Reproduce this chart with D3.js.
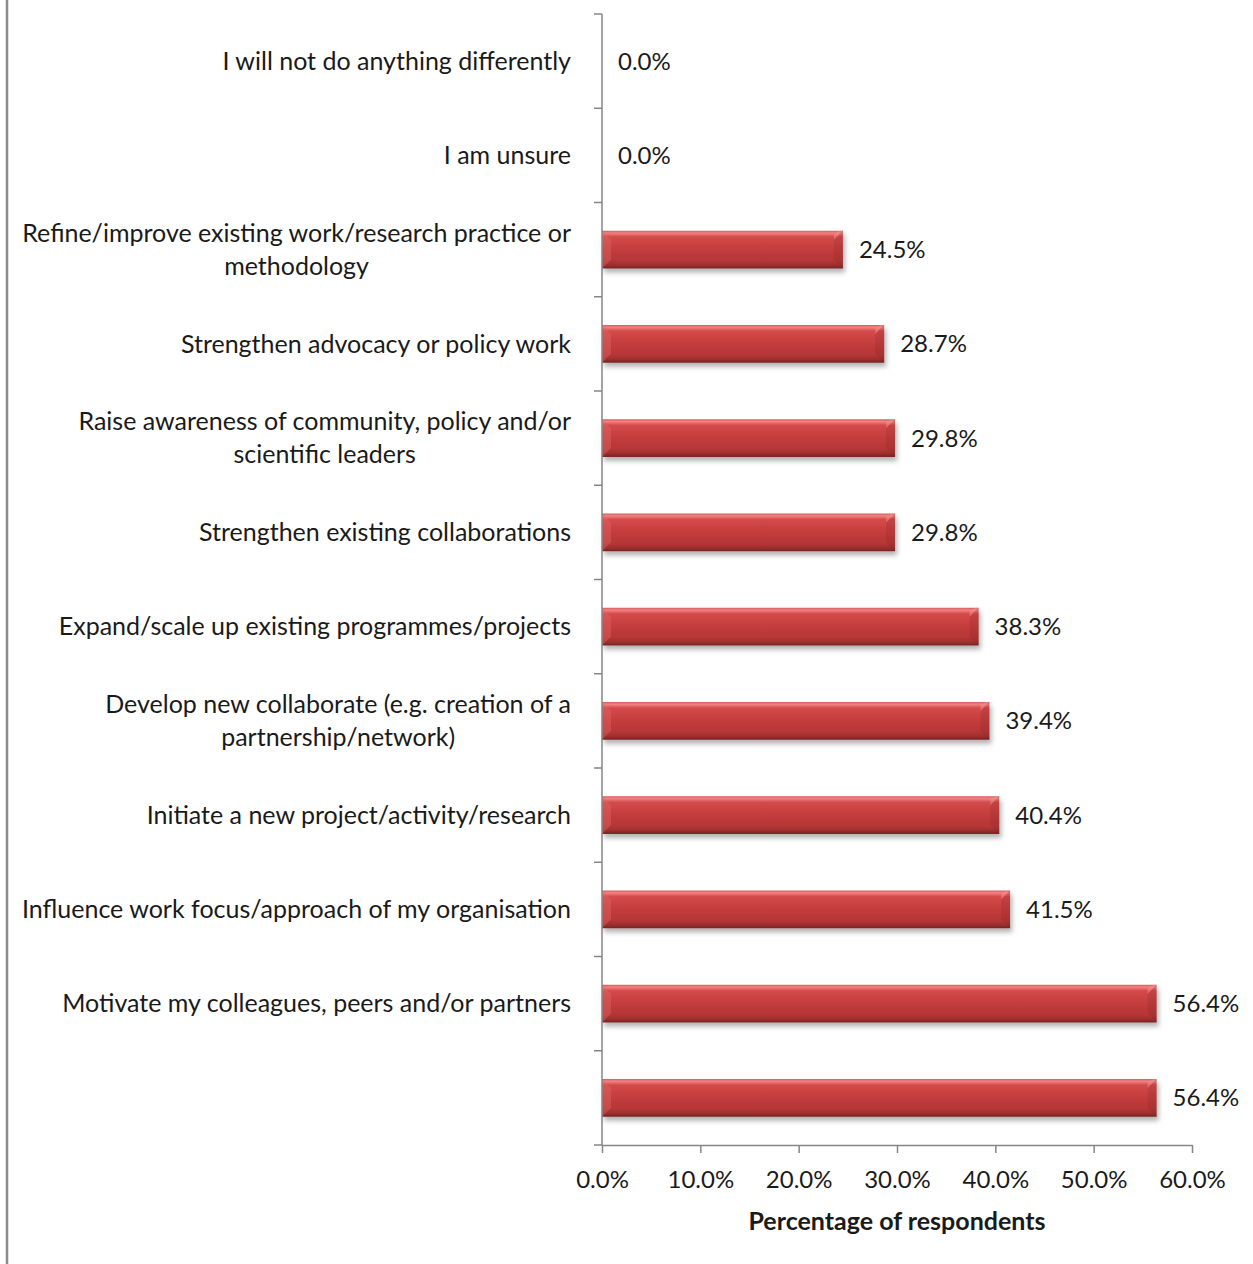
<!DOCTYPE html>
<html>
<head>
<meta charset="utf-8">
<script src="https://cdn.jsdelivr.net/npm/d3@7"></script>
<style>
  html, body { margin: 0; padding: 0; background: #fff; }
  svg { display: block; }
  text { font-family: Lato, "Open Sans", sans-serif; fill: #1a1a1a; }
</style>
</head>
<body>
<svg id="chart" width="1253" height="1264"></svg>
<script>
// Survey answers, top to bottom ("|" splits a label into lines)
const categories = [
  "I will not do anything differently",
  "I am unsure",
  "Refine/improve existing work/research practice or|methodology",
  "Strengthen advocacy or policy work",
  "Raise awareness of community, policy and/or|scientific leaders",
  "Strengthen existing collaborations",
  "Expand/scale up existing programmes/projects",
  "Develop new collaborate (e.g. creation of a|partnership/network)",
  "Initiate a new project/activity/research",
  "Influence work focus/approach of my organisation",
  "Motivate my colleagues, peers and/or partners",
  ""
];
// Percentage of respondents per answer
const values = [0.0, 0.0, 24.5, 28.7, 29.8, 29.8, 38.3, 39.4, 40.4, 41.5, 56.4, 56.4];
const xTicks = [0, 10, 20, 30, 40, 50, 60];
const xTitle = "Percentage of respondents";

const svg = d3.select("#chart");
const plotLeft = 602, plotRight = 1192, plotTop = 14, plotBottom = 1145;
const axisColor = "#868686";

// Frame line along the left edge
svg.append("line")
  .attr("x1", 7).attr("x2", 7).attr("y1", 0).attr("y2", 1264)
  .attr("stroke", "#8a8a8a").attr("stroke-width", 2.5);

const x = d3.scaleLinear().domain([0, 60]).range([plotLeft, plotRight]);
const y = d3.scaleBand().domain(d3.range(categories.length)).range([plotTop, plotBottom])
  .paddingInner(0.6).paddingOuter(0.3);
const step = y.step();

// Gradients and shadow for the bevelled bars
const defs = svg.append("defs");
const grad = defs.append("linearGradient").attr("id", "barGrad")
  .attr("x1", 0).attr("y1", 0).attr("x2", 0).attr("y2", 1);
[["0%", "#d85a5a"], ["6%", "#f28383"], ["16%", "#d44a4a"], ["50%", "#c43c3c"],
 ["80%", "#b53636"], ["92%", "#9a2e2e"], ["100%", "#742222"]]
  .forEach(([o, c]) => grad.append("stop").attr("offset", o).attr("stop-color", c));
const shadow = defs.append("filter").attr("id", "shadow")
  .attr("x", "-5%").attr("y", "-20%").attr("width", "115%").attr("height", "160%");
shadow.append("feDropShadow").attr("dx", 2).attr("dy", 4).attr("stdDeviation", 2.5)
  .attr("flood-color", "#000").attr("flood-opacity", 0.3);

// Bars
const bars = svg.append("g").selectAll("g.bar")
  .data(values.map((v, i) => ({ v, i })).filter(d => d.v > 0))
  .join("g").attr("class", "bar");
bars.append("rect")
  .attr("x", x(0))
  .attr("y", d => y(d.i))
  .attr("width", d => x(d.v) - x(0))
  .attr("height", y.bandwidth())
  .attr("fill", "url(#barGrad)")
  .attr("filter", "url(#shadow)");
// Bevel facets at the bar ends
const bev = 9;
bars.append("path")
  .attr("d", d => {
    const x0 = x(0), y0 = y(d.i), y1 = y0 + y.bandwidth();
    return `M${x0},${y0}L${x0 + bev},${y0 + bev}L${x0 + bev},${y1 - bev}L${x0},${y1}Z`;
  })
  .attr("fill", "#e26a6a").attr("opacity", 0.4);
bars.append("path")
  .attr("d", d => {
    const x1 = x(d.v), y0 = y(d.i);
    return `M${x1},${y0}L${x1 - bev},${y0 + bev}L${x1 - bev},${y0 + 3}L${x1 - 3},${y0}Z`;
  })
  .attr("fill", "#f29090").attr("opacity", 0.5);
bars.append("path")
  .attr("d", d => {
    const x1 = x(d.v), y0 = y(d.i), y1 = y0 + y.bandwidth();
    return `M${x1},${y0}L${x1 - bev},${y0 + bev}L${x1 - bev},${y1 - bev}L${x1},${y1}Z`;
  })
  .attr("fill", "#7a2020").attr("opacity", 0.18);

// Value labels
svg.append("g").selectAll("text")
  .data(values.map((v, i) => ({ v, i })))
  .join("text")
  .attr("x", d => x(d.v) + 16)
  .attr("y", d => y(d.i) + y.bandwidth() / 2)
  .attr("dy", "0.35em")
  .attr("font-size", 24)
  .text(d => d.v.toFixed(1) + "%");

// Y axis: line with ticks between categories
const yAxis = svg.append("g").attr("stroke", axisColor).attr("stroke-width", 1.5);
yAxis.append("line").attr("x1", plotLeft).attr("x2", plotLeft).attr("y1", plotTop).attr("y2", plotBottom);
yAxis.selectAll("line.tick")
  .data(d3.range(categories.length + 1))
  .join("line").attr("class", "tick")
  .attr("x1", plotLeft - 8).attr("x2", plotLeft)
  .attr("y1", i => plotTop + i * step).attr("y2", i => plotTop + i * step);

// X axis
const xAxis = svg.append("g").attr("transform", `translate(0,${plotBottom})`)
  .call(d3.axisBottom(x).tickValues(xTicks).tickSize(8).tickSizeOuter(0)
    .tickFormat(d => d.toFixed(1) + "%"));
xAxis.select(".domain").attr("stroke", axisColor).attr("stroke-width", 1.5);
xAxis.selectAll(".tick line").attr("stroke", axisColor).attr("stroke-width", 1.5);
xAxis.selectAll(".tick text")
  .attr("font-size", 24).attr("font-family", "Lato, sans-serif").attr("fill", "#1a1a1a")
  .attr("y", 26).attr("dy", "0.71em");

svg.append("text")
  .attr("x", (plotLeft + plotRight) / 2).attr("y", 1221)
  .attr("dy", "0.35em").attr("text-anchor", "middle")
  .attr("font-size", 25).attr("font-weight", "bold")
  .text(xTitle);

// Category labels: lines centred within a block whose right edge sits by the axis
const labelRight = 571, lineH = 33;
categories.forEach((c, i) => {
  if (!c) return;
  const lines = c.split("|");
  const g = svg.append("g");
  const cy = y(i) + y.bandwidth() / 2;
  const texts = lines.map((l, k) => g.append("text")
    .attr("y", cy + (k - (lines.length - 1) / 2) * lineH)
    .attr("dy", "0.35em")
    .attr("font-size", 25)
    .text(l));
  const widths = texts.map(t => t.node().getComputedTextLength());
  const w = d3.max(widths);
  texts.forEach(t => t.attr("x", labelRight - w / 2).attr("text-anchor", "middle"));
});
</script>
</body>
</html>
